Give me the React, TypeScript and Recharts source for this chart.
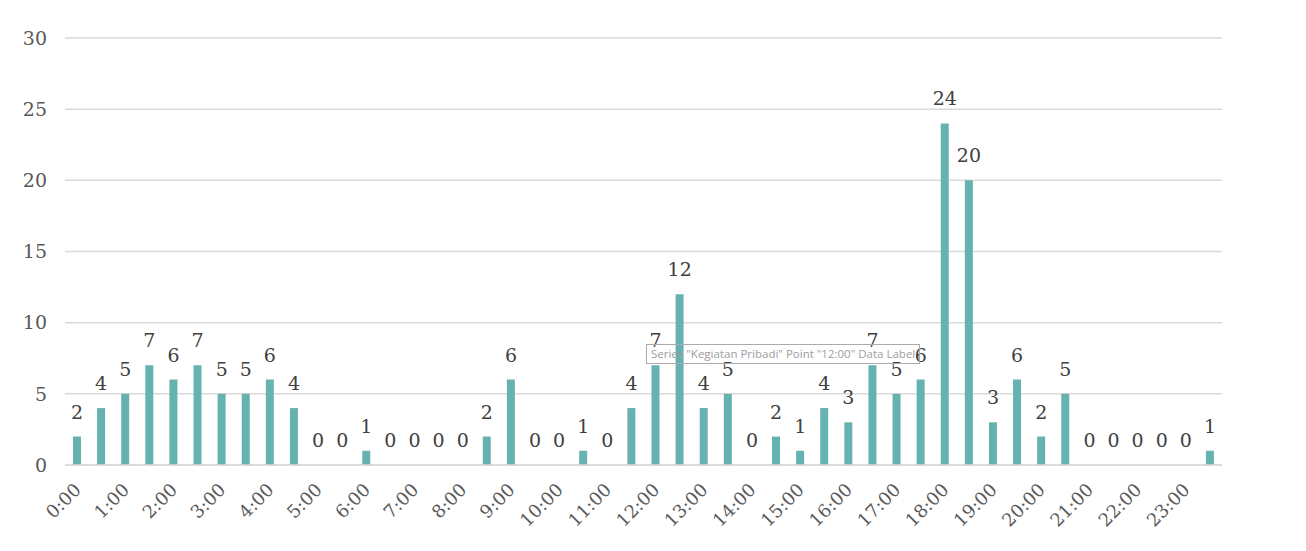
import { ComposedChart, Bar, Line, XAxis, YAxis, CartesianGrid, LabelList } from 'recharts';

const SLOTS = [
  '0:00', '0:30', '1:00', '1:30', '2:00', '2:30', '3:00', '3:30', '4:00', '4:30',
  '5:00', '5:30', '6:00', '6:30', '7:00', '7:30', '8:00', '8:30', '9:00', '9:30',
  '10:00', '10:30', '11:00', '11:30', '12:00', '12:30', '13:00', '13:30', '14:00', '14:30',
  '15:00', '15:30', '16:00', '16:30', '17:00', '17:30', '18:00', '18:30', '19:00', '19:30',
  '20:00', '20:30', '21:00', '21:30', '22:00', '22:30', '23:00', '23:30',
];

const KEGIATAN_PRIBADI = [
  2, 4, 5, 7, 6, 7, 5, 5, 6, 4,
  0, 0, 1, 0, 0, 0, 0, 2, 6, 0,
  0, 1, 0, 4, 7, 12, 4, 5, 0, 2,
  1, 4, 3, 7, 5, 6, 24, 20, 3, 6,
  2, 5, 0, 0, 0, 0, 0, 1,
];

const Y_TICKS = [0, 5, 10, 15, 20, 25, 30];

const data = SLOTS.map((slot, i) => ({ slot, value: KEGIATAN_PRIBADI[i] }));

const FONT = '"DejaVu Serif", serif';

const SlotTick = (props: any) => {
  const { x, y, payload } = props;
  const ax = x + 5;
  const ay = y + 18;
  return (
    <text
      x={ax}
      y={ay}
      transform={`rotate(-45, ${ax}, ${ay})`}
      textAnchor="end"
      fill="#595959"
      fontSize={18}
      fontFamily={FONT}
    >
      {payload.value}
    </text>
  );
};

export default function App() {
  return (
    <div style={{ position: 'absolute', left: 0, top: 0, width: 1306, height: 551, background: '#fff' }}>
      <ComposedChart
        width={1306}
        height={551}
        data={data}
        margin={{ top: 38, right: 84, left: 0, bottom: 6 }}
      >
        <CartesianGrid stroke="#d9d9d9" strokeWidth={1.5} vertical={false} />
        <XAxis
          dataKey="slot"
          interval={1}
          height={80}
          axisLine={{ stroke: '#d9d9d9', strokeWidth: 1.5 }}
          tickLine={false}
          tick={<SlotTick />}
        />
        <YAxis
          width={65}
          domain={[0, 30]}
          ticks={Y_TICKS}
          axisLine={false}
          tickLine={false}
          tickMargin={12}
          tick={{ fill: '#595959', fontSize: 19, fontFamily: FONT }}
        />
        <Bar dataKey="value" fill="#66b2b0" barSize={8} isAnimationActive={false} />
        {/* invisible line only carries the data labels, so zeros get one too */}
        <Line
          dataKey="value"
          stroke="none"
          dot={false}
          activeDot={false}
          isAnimationActive={false}
        >
          <LabelList
            dataKey="value"
            position="top"
            offset={18}
            fill="#404040"
            fontSize={19}
            fontFamily={FONT}
          />
        </Line>
      </ComposedChart>
      <div
        style={{
          position: 'absolute',
          left: 646,
          top: 344,
          height: 18,
          padding: '0 4px',
          border: '1px solid #ababab',
          color: '#a09ca2',
          fontFamily: '"Open Sans", sans-serif',
          fontSize: 11.5,
          lineHeight: '18px',
          whiteSpace: 'nowrap',
        }}
      >
        Series "Kegiatan Pribadi" Point "12:00" Data Label
      </div>
    </div>
  );
}
